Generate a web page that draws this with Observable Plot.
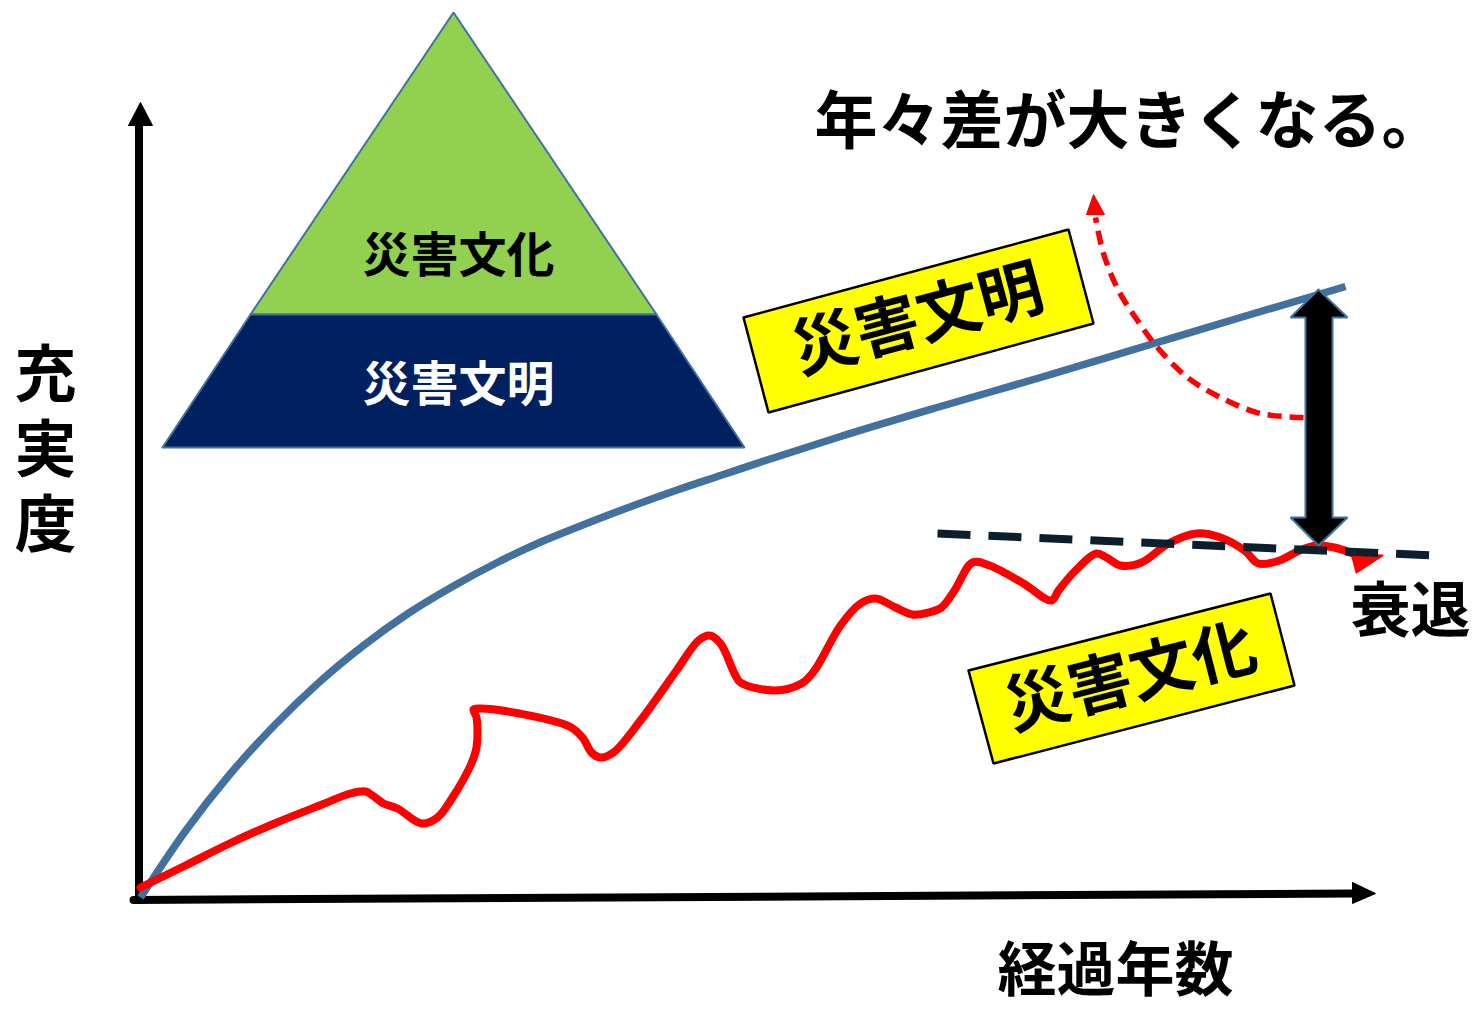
<!DOCTYPE html>
<html><head><meta charset="utf-8">
<script src="https://cdn.jsdelivr.net/npm/d3@7"></script>
<script src="https://cdn.jsdelivr.net/npm/@observablehq/plot@0.6"></script>
<style>html,body{margin:0;padding:0;background:#fff;} #chart svg{display:block;}</style>
</head><body><div id="chart"></div>
<script>
// x = 経過年数 (elapsed years, arbitrary units), y = 充実度 (fulfilment, arbitrary units)

// 災害文明 (disaster civilisation) — steadily rising curve
const civYears = [0,4.46,8.92,13.38,17.84,22.3,26.76,31.22,35.68,40.14,44.6,49.06,53.52,58,62.5,70,80,90,100,110,120.5];
const civLevel = [0,6.6,12.3,17.2,21.5,25.2,28.4,31.1,33.5,35.6,37.4,39.1,40.7,42.2,43.7,46.1,49.1,52.0,55.0,58.0,61.1];

// 災害文化 (disaster culture) — wavy curve that levels off
const culYears = [0,4.5,8.9,13.4,17.9,21.0,22.5,23.2,24.3,25.7,28.1,29.7,31.2,33.0,33.6,33.6,33.3,33.9,37.9,42.9,44.2,45.1,46.0,47.3,50.0,53.6,55.8,56.9,58.0,59.4,60.0,63.4,66.1,67.4,70.0,72.0,73.5,75.5,77.2,78.8,80.1,81.4,83.2,84.9,88.3,91.1,91.8,93.5,95.6,96.6,98.0,100.1,102.8,105.6,108.0,110.4,111.8,113.9,115.9,117.6,119.4,122.0];
const culLevel = [1.0,3.2,5.4,7.4,9.2,10.4,10.6,10.2,9.4,8.9,7.4,8.0,10.0,13.2,15.0,18.0,18.8,18.9,18.4,17.1,16.0,14.5,14.0,14.5,17.7,22.7,25.7,26.2,25.4,22.4,21.5,20.7,21.4,22.7,27.2,29.4,29.9,29.0,28.3,28.5,29.0,30.7,33.5,33.2,31.4,29.7,30.7,32.7,34.4,34.0,33.2,33.5,35.4,36.4,36.0,34.7,33.4,33.7,34.7,35.2,35.0,34.1];
const culHeadX = [121.1,124.2,121.6,121.1];
const culHeadY = [34.4,34.2,32.5,34.4];

// 衰退 trend (dashed)
const trendX = [79.7,129.4];
const trendY = [36.4,34.2];

// red dashed arc "年々差が大きくなる"
const arcX = [116.3,112.0,108.0,104.7,101.7,99.7,97.8,96.3,95.5];
const arcY = [48.0,48.4,50.0,52.0,55.0,57.7,60.7,64.4,68.0];
const arcHeadX = [94.6,95.3,96.4,94.6];
const arcHeadY = [68.3,70.3,68.3,68.3];

// gap double arrow
const gapX = [117.8,115.0,116.5,116.5,115.0,117.8,120.7,119.2,119.2,120.7,117.8];
const gapY = [60.8,58.0,58.0,38.0,38.0,35.2,38.0,38.0,58.0,58.0,60.8];

// axes
const yAxisX = [-0.15,-0.15];
const yAxisY = [-0.2,77.2];
const yHeadX = [-1.2,0,1.2,-1.2];
const yHeadY = [77.2,79.5,77.2,77.2];
const xAxisX = [-0.7,121.2];
const xAxisY = [-0.25,0.4];
const xHeadX = [121.2,123.5,121.2,121.2];
const xHeadY = [1.5,0.4,-0.6,1.5];

// pyramid
const pyrTopX = [11.0,31.3,51.6,11.0];
const pyrTopY = [58.3,88.5,58.3,58.3];
const pyrBaseX = [2.2,11.0,51.6,60.4,2.2];
const pyrBaseY = [45.0,58.3,58.3,45.0,45.0];

// yellow label boxes
const box1X = [60.3,92.8,95.3,62.8,60.3];
const box1Y = [58.0,66.8,57.4,48.5,58.0];
const box2X = [82.8,113.0,115.4,85.3,82.8];
const box2Y = [22.7,30.4,21.2,13.4,22.7];

// texts
const labelCulture = "災害文化";
const labelCiv = "災害文明";
const labelGap = "年々差が大きくなる。";
const labelDecline = "衰退";
const axisX = "経過年数";
const axisY = "充実度";

const pts = (xs, ys) => xs.map((x, i) => ({x, y: ys[i]}));
const FONT = "'Noto Sans CJK JP', 'Noto Sans', sans-serif";
const BLUE = "#41719c";

const chart = Plot.plot({
  width: 1480, height: 1010, margin: 0,
  style: {background: "#fff", overflow: "visible"},
  x: {domain: [-14, 134], axis: null},
  y: {domain: [-11.3, 89.7], axis: null},
  marks: [
    // pyramid
    Plot.line(pts(pyrTopX, pyrTopY), {x: "x", y: "y", fill: "#92d050", stroke: BLUE, strokeWidth: 2, strokeLinejoin: "miter"}),
    Plot.line(pts(pyrBaseX, pyrBaseY), {x: "x", y: "y", fill: "#002060", stroke: BLUE, strokeWidth: 2, strokeLinejoin: "miter"}),
    Plot.text([labelCulture], {x: 31.8, y: 64.1, text: d => d, fontFamily: FONT, fontSize: 48, fontWeight: 700, fill: "#000"}),
    Plot.text([labelCiv], {x: 31.8, y: 51.2, text: d => d, fontFamily: FONT, fontSize: 48, fontWeight: 700, fill: "#fff"}),
    // axes
    Plot.line(pts(yAxisX, yAxisY), {x: "x", y: "y", stroke: "#000", strokeWidth: 8}),
    Plot.line(pts(yHeadX, yHeadY), {x: "x", y: "y", fill: "#000", stroke: "#000", strokeWidth: 1}),
    Plot.line(pts(xAxisX, xAxisY), {x: "x", y: "y", stroke: "#000", strokeWidth: 8}),
    Plot.line(pts(xHeadX, xHeadY), {x: "x", y: "y", fill: "#000", stroke: "#000", strokeWidth: 1}),
    // civilisation curve
    Plot.line(pts(civYears, civLevel), {x: "x", y: "y", stroke: BLUE, strokeWidth: 7.5, curve: "monotone-x", strokeLinecap: "butt"}),
    // culture curve
    Plot.line(pts(culYears, culLevel), {x: "x", y: "y", stroke: "#ff0000", strokeWidth: 8, curve: "catmull-rom"}),
    Plot.line(pts(culHeadX, culHeadY), {x: "x", y: "y", fill: "#ff0000", stroke: "#ff0000", strokeWidth: 2}),
    // trend dashed
    Plot.line(pts(trendX, trendY), {x: "x", y: "y", stroke: "#0d1f2d", strokeWidth: 8, strokeDasharray: "33,18", strokeLinecap: "butt"}),
    // gap arrow
    Plot.line(pts(gapX, gapY), {x: "x", y: "y", fill: "#000", stroke: BLUE, strokeWidth: 2, strokeLinejoin: "miter"}),
    // red arc
    Plot.line(pts(arcX, arcY), {x: "x", y: "y", stroke: "#ff0000", strokeWidth: 5.5, strokeDasharray: "14,8", curve: "catmull-rom", strokeLinecap: "butt"}),
    Plot.line(pts(arcHeadX, arcHeadY), {x: "x", y: "y", fill: "#ff0000", stroke: "#ff0000", strokeWidth: 1}),
    // yellow boxes
    Plot.line(pts(box1X, box1Y), {x: "x", y: "y", fill: "#ffff00", stroke: "#000", strokeWidth: 2.5, strokeLinejoin: "miter"}),
    Plot.text([labelCiv], {x: 77.8, y: 57.7, text: d => d, rotate: -15, fontFamily: FONT, fontSize: 64, fontWeight: 700, fill: "#000"}),
    Plot.line(pts(box2X, box2Y), {x: "x", y: "y", fill: "#ffff00", stroke: "#000", strokeWidth: 2.5, strokeLinejoin: "miter"}),
    Plot.text([labelCulture], {x: 99.1, y: 21.9, text: d => d, rotate: -14.3, fontFamily: FONT, fontSize: 64, fontWeight: 700, fill: "#000"}),
    // other texts
    Plot.text([labelGap], {x: 67.4, y: 77.5, text: d => d, textAnchor: "start", fontFamily: FONT, fontSize: 63, fontWeight: 700, fill: "#000"}),
    Plot.text([labelDecline], {x: 127, y: 28.5, text: d => d, fontFamily: FONT, fontSize: 60, fontWeight: 700, fill: "#000"}),
    Plot.text([axisX], {x: 97.5, y: -7.5, text: d => d, fontFamily: FONT, fontSize: 59, fontWeight: 700, fill: "#000"}),
    Plot.text([axisY], {x: -9.5, y: 46.2, text: d => d, fontFamily: FONT, fontSize: 62, fontWeight: 700, fill: "#000"})
  ]
});
// set the y-axis title vertically (one text element, upright glyphs)
d3.select(chart).selectAll("text")
  .filter(function () { return this.textContent === axisY; })
  .attr("dy", null)
  .style("writing-mode", "vertical-rl")
  .style("text-orientation", "upright")
  .style("letter-spacing", "13px");
document.getElementById("chart").appendChild(chart);
</script></body></html>
